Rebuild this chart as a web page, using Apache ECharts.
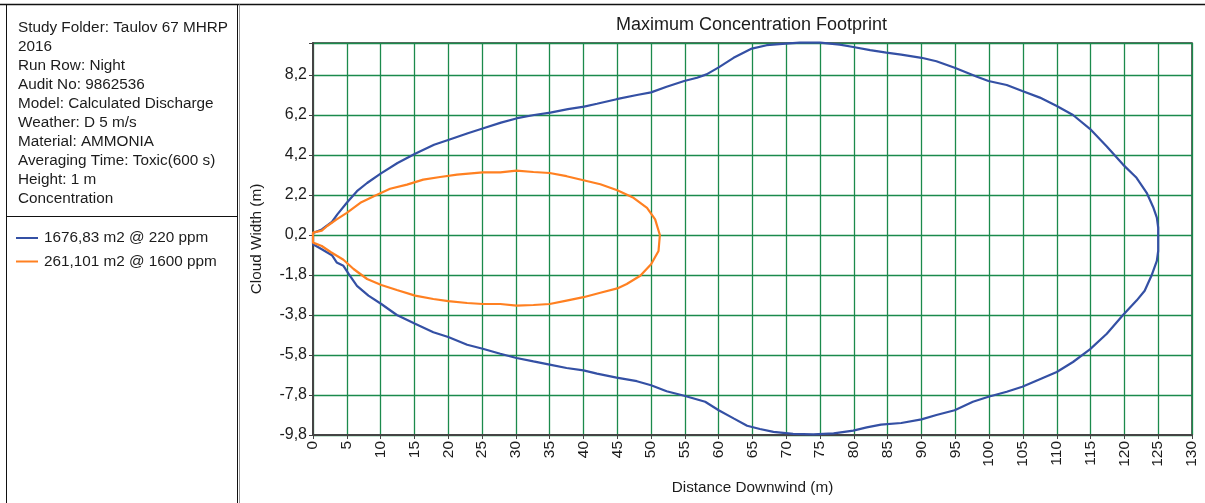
<!DOCTYPE html>
<html>
<head>
<meta charset="utf-8">
<script src="https://cdn.jsdelivr.net/npm/echarts@6/dist/echarts.min.js"></script>
<style>
html,body{margin:0;padding:0;background:#fff;}
#chart{width:1205px;height:503px;}
</style>
</head>
<body>
<div id="chart"></div>
<script>
// ---------- data ----------
const infoLines = [
  'Study Folder: Taulov 67 MHRP',
  '2016',
  'Run Row: Night',
  'Audit No: 9862536',
  'Model: Calculated Discharge',
  'Weather: D 5 m/s',
  'Material: AMMONIA',
  'Averaging Time: Toxic(600 s)',
  'Height: 1 m',
  'Concentration'
];
const seriesNames = ['1676,83 m2 @ 220 ppm', '261,101 m2 @ 1600 ppm'];
const seriesColors = ['#3450a4', '#ff8021'];

// contour for 220 ppm: [distance downwind (m), cloud width (m)]
const contour220 = [
  [0,0.0],[0,0.3],[1.3,0.48],[2.8,0.85],[3.6,1.23],[5.0,1.81],[6.5,2.39],[8.0,2.8],[10.0,3.27],
  [12.5,3.8],[15.1,4.26],[17.9,4.71],[20.1,4.96],[22.9,5.29],[25.2,5.54],[27.8,5.82],[30.2,6.04],
  [32.7,6.2],[35.1,6.32],[37.7,6.49],[40.1,6.62],[42.0,6.76],[44.9,6.99],[47.9,7.2],[50.0,7.33],
  [52.3,7.61],[54.9,7.9],[56.8,8.06],[58.2,8.23],[60.0,8.58],[62.2,9.06],[64.9,9.52],[67.1,9.69],
  [69.9,9.77],[72.0,9.82],[75.0,9.82],[77.9,9.72],[79.9,9.6],[82.4,9.44],[84.8,9.32],[87.0,9.22],
  [90.0,9.06],[92.2,8.89],[94.9,8.56],[98.2,8.11],[99.9,7.9],[102.6,7.7],[104.9,7.4],[107.5,7.07],
  [110.0,6.65],[112.4,6.2],[114.9,5.51],[117.4,4.63],[119.8,3.72],[121.8,3.06],[123.3,2.31],
  [124.3,1.56],[124.8,1.07],[125.0,0.57],[125.0,0.0],
  [125.0,-0.6],[124.8,-1.09],[124.0,-1.84],[123.0,-2.59],[121.8,-3.08],[119.8,-3.8],[117.4,-4.74],
  [114.9,-5.52],[112.4,-6.15],[110.0,-6.65],[107.5,-7.01],[104.9,-7.39],[102.6,-7.64],[99.9,-7.89],
  [97.6,-8.14],[94.9,-8.56],[92.2,-8.8],[90.0,-9.02],[87.0,-9.2],[84.0,-9.28],[81.9,-9.42],
  [79.9,-9.58],[77.0,-9.72],[74.0,-9.77],[71.0,-9.74],[68.1,-9.64],[66.1,-9.5],[64.2,-9.34],
  [62.2,-8.97],[60.0,-8.56],[58.0,-8.14],[54.9,-7.84],[52.3,-7.61],[50.0,-7.31],[47.9,-7.11],
  [44.9,-6.93],[42.0,-6.73],[40.0,-6.57],[37.5,-6.45],[35.0,-6.28],[32.6,-6.12],[30.1,-5.95],
  [27.7,-5.74],[25.1,-5.49],[22.8,-5.29],[20.0,-4.9],[17.8,-4.66],[15.1,-4.24],[12.4,-3.8],
  [10.1,-3.25],[8.2,-2.83],[6.5,-2.34],[5.3,-1.76],[4.5,-1.34],[3.5,-1.17],[2.8,-0.81],
  [1.3,-0.51],[0,-0.26],[0,0.0]
];

// contour for 1600 ppm
const contour1600 = [
  [0,0],[0,0.32],[1.3,0.42],[2.1,0.65],[3.5,0.98],[5.0,1.31],[7.0,1.81],[9.0,2.14],[11.4,2.51],
  [13.9,2.72],[16.3,2.97],[18.8,3.1],[21.3,3.22],[25.1,3.33],[27.7,3.33],[30.1,3.42],[32.6,3.35],
  [35.0,3.3],[37.5,3.14],[40.0,2.94],[42.5,2.74],[45.0,2.44],[47.4,2.06],[49.4,1.56],[50.6,0.98],
  [51.3,0.2],[51.1,-0.6],[50.0,-1.26],[48.4,-1.84],[46.4,-2.25],[45.0,-2.47],[42.5,-2.69],
  [40.0,-2.91],[37.5,-3.08],[35.0,-3.25],[32.6,-3.3],[30.1,-3.33],[27.7,-3.25],[25.1,-3.25],
  [22.8,-3.2],[20.0,-3.11],[17.8,-3.0],[15.1,-2.83],[12.4,-2.55],[10.1,-2.3],[8.0,-2.0],
  [6.0,-1.5],[4.5,-1.04],[2.6,-0.65],[1.3,-0.35],[0,-0.18],[0,0]
];

// axis settings (values)
const xMin = 0, xMax = 130, xStep = 5;
const yMin = -9.8, yMax = 9.8, yStep = 2;

// ---------- chart ----------
// y values are plotted relative to yMin so ticks fall on -9.8, -7.8, ... 8.2
const shift = v => [v[0], +(v[1] - yMin).toFixed(3)];
const FONT = 'Liberation Sans, Arial, sans-serif';
const TXT = '#1c1c1c';

const chart = echarts.init(document.getElementById('chart'), null, {renderer: 'canvas'});

const graphics = [
  // outer frame lines
  {type: 'line', shape: {x1: 0, y1: 4.5, x2: 1205, y2: 4.5}, style: {stroke: '#111', lineWidth: 1.5}, silent: true},
  {type: 'line', shape: {x1: 6.5, y1: 4.5, x2: 6.5, y2: 503}, style: {stroke: '#111', lineWidth: 1}, silent: true},
  {type: 'line', shape: {x1: 237.5, y1: 4.5, x2: 237.5, y2: 503}, style: {stroke: '#111', lineWidth: 1}, silent: true},
  {type: 'line', shape: {x1: 239.5, y1: 4.5, x2: 239.5, y2: 503}, style: {stroke: '#999', lineWidth: 1}, silent: true},
  {type: 'line', shape: {x1: 6.5, y1: 216.5, x2: 237.5, y2: 216.5}, style: {stroke: '#111', lineWidth: 1}, silent: true},
  // chart title
  {type: 'text', x: 751.5, y: 25, style: {text: 'Maximum Concentration Footprint', font: '18px ' + FONT, fill: TXT, align: 'center', verticalAlign: 'middle'}, silent: true}
];
infoLines.forEach((t, i) => {
  graphics.push({type: 'text', x: 18, y: 28 + i * 19, style: {text: t, font: '15.3px ' + FONT, fill: TXT, verticalAlign: 'middle'}, silent: true});
});
seriesNames.forEach((t, i) => {
  const y = 238 + i * 23.5;
  graphics.push({type: 'line', shape: {x1: 16, y1: y, x2: 38, y2: y}, style: {stroke: seriesColors[i], lineWidth: 2}, silent: true});
  graphics.push({type: 'text', x: 44, y: y, style: {text: t, font: '15.3px ' + FONT, fill: TXT, verticalAlign: 'middle'}, silent: true});
});

chart.setOption({
  animation: false,
  backgroundColor: '#ffffff',
  graphic: graphics,
  grid: {
    left: 313, right: 13, top: 43, bottom: 68,
    show: true, borderColor: '#333', borderWidth: 1.5, backgroundColor: 'transparent'
  },
  xAxis: {
    type: 'value', min: xMin, max: xMax, interval: xStep,
    name: 'Distance Downwind (m)', nameLocation: 'middle', nameGap: 45,
    nameTextStyle: {fontFamily: FONT, fontSize: 15.3, color: TXT},
    axisLine: {show: true, onZero: false, lineStyle: {color: '#444', width: 2}},
    axisTick: {show: true, length: 4, lineStyle: {color: '#444'}},
    axisLabel: {rotate: 90, margin: 6, fontFamily: FONT, fontSize: 15.5, color: TXT},
    splitLine: {show: true, lineStyle: {color: '#1b8a4c', width: 1.3}}
  },
  yAxis: {
    type: 'value', min: 0, max: +(yMax - yMin).toFixed(3), interval: yStep,
    name: 'Cloud Width (m)', nameLocation: 'middle', nameGap: 49, nameRotate: 90,
    nameTextStyle: {fontFamily: FONT, fontSize: 15.3, color: TXT},
    axisLine: {show: true, onZero: false, lineStyle: {color: '#444', width: 2}},
    axisTick: {show: true, length: 4, lineStyle: {color: '#444'}},
    axisLabel: {
      margin: 6, fontFamily: FONT, fontSize: 16, color: TXT,
      formatter: v => (v > (yMax - yMin) - 1) ? '' : (v + yMin).toFixed(1).replace('.', ',')
    },
    splitLine: {show: true, lineStyle: {color: '#1b8a4c', width: 1.3}}
  },
  series: [
    {
      name: seriesNames[0], type: 'line', data: contour220.map(shift),
      showSymbol: false, smooth: false, clip: false,
      lineStyle: {color: seriesColors[0], width: 2.2}, z: 3
    },
    {
      name: seriesNames[1], type: 'line', data: contour1600.map(shift),
      showSymbol: false, smooth: false, clip: false,
      lineStyle: {color: seriesColors[1], width: 2.2}, z: 4
    }
  ]
});
</script>
</body>
</html>
